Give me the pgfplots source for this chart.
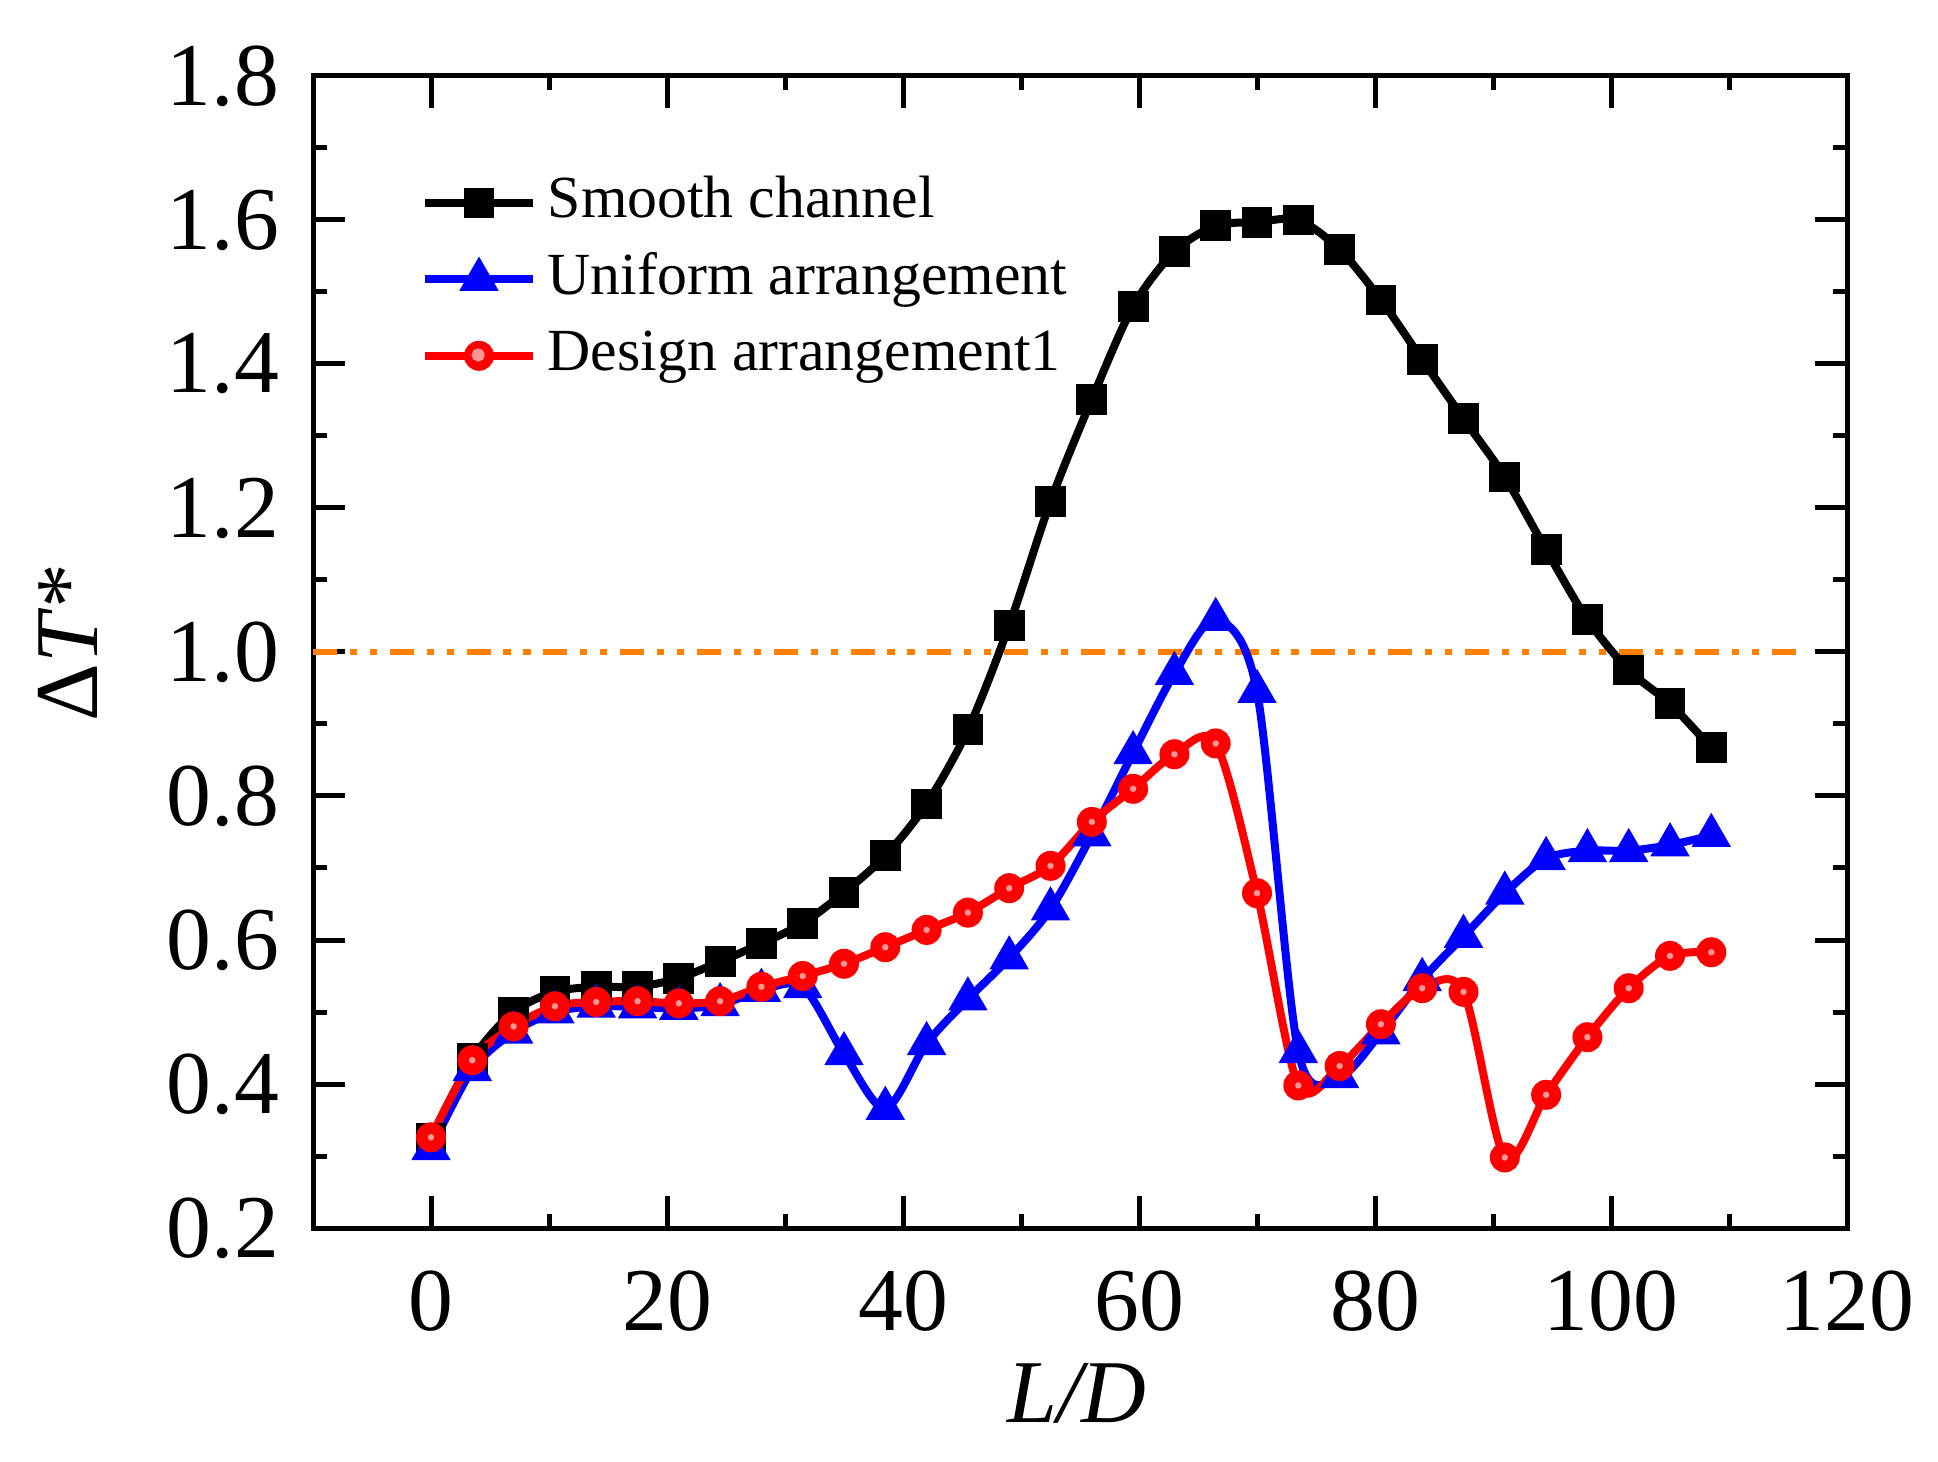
\documentclass[border=0pt]{standalone}
\usepackage{pgfplots}
\usepackage{pgfplotstable}
\pgfplotsset{compat=1.18}
\usepackage{fontspec}
\setmainfont{Liberation Serif}
\definecolor{myorange}{RGB}{255,128,0}
\definecolor{hilite}{RGB}{255,150,150}
\pgfplotsset{
  stdlegend/.style={legend image code/.code={\draw[mark repeat=2,mark phase=2,##1] plot coordinates {(0bp,0bp) (13.5bp,0bp) (27bp,0bp)};}},
  redlegend/.style={legend image code/.code={\draw[mark repeat=2,mark phase=2,##1] plot coordinates {(0bp,0bp) (13.5bp,0bp) (27bp,0bp)}; \fill[hilite] (13.3bp,0.2bp) circle (0.6bp);}},
}
\pgfplotstableread{
x     black  blue   red
0     0.325  0.310  0.326
3.5   0.435  0.420  0.433
7     0.500  0.472  0.480
10.5  0.528  0.500  0.508
14    0.535  0.508  0.514
17.5  0.535  0.507  0.515
21    0.547  0.505  0.512
24.5  0.570  0.510  0.515
28    0.595  0.530  0.535
31.5  0.623  0.535  0.550
35    0.666  0.442  0.567
38.5  0.717  0.366  0.590
42    0.789  0.456  0.614
45.5  0.892  0.518  0.638
49    1.037  0.575  0.672
52.5  1.209  0.643  0.703
56    1.351  0.746  0.764
59.5  1.480  0.860  0.810
63    1.556  0.970  0.858
66.5  1.592  1.045  0.873
70    1.597  0.945  0.665
73.5  1.600  0.445  0.398
77    1.559  0.410  0.425
80.5  1.489  0.471  0.483
84    1.406  0.545  0.533
87.5  1.324  0.605  0.528
91    1.243  0.665  0.298
94.5  1.142  0.713  0.385
98    1.045  0.724  0.465
101.5 0.975  0.724  0.533
105   0.928  0.732  0.578
108.5 0.867  0.745  0.583
}\data
\begin{document}
\begin{tikzpicture}
\begin{axis}[
  name=ax,
  scale only axis,
  width=383.5bp, height=288bp,
  xmin=-10, xmax=120, ymin=0.2, ymax=1.8,
  xtick={0,20,40,60,80,100,120},
  ytick={0.2,0.4,0.6,0.8,1.0,1.2,1.4,1.6,1.8},
  minor x tick num=1, minor y tick num=1,
  tick align=inside,
  major tick length=8bp, minor tick length=3.6bp,
  axis line style={line width=1.25bp},
  every tick/.style={black, line width=1.25bp},
  tick label style={font=\fontsize{22.5}{27}\selectfont},
  /pgf/number format/assume math mode=true,
  y tick label style={/pgf/number format/fixed, /pgf/number format/fixed zerofill, /pgf/number format/precision=1, xshift=-5bp},
  x tick label style={yshift=-7.2bp},
  xlabel={\textit{L/D}},
  ylabel={Δ\textit{T}*},
  every axis x label/.style={at={(axis description cs:0.498,0)}, anchor=center, yshift=-41.25bp, font=\fontsize{22.5}{27}\selectfont},
  every axis y label/.style={at={(axis description cs:0,0.508)}, xshift=-61.25bp, rotate=90, anchor=center, font=\fontsize{22.5}{27}\selectfont},
  legend style={at={(axis description cs:0,1)}, anchor=north west, xshift=27bp, yshift=-24.5bp,
    draw=none, fill=none, inner sep=0pt, outer sep=0pt, row sep=4.6bp, column sep=2.7bp,
    font=\fontsize{15}{18}\selectfont, nodes={inner sep=0pt, text height=11bp, text depth=3.5bp}},
  legend cell align=left,
  stdlegend,
]
\addplot[myorange, line width=1.5bp, dash pattern=on 6bp off 3.2bp on 1.8bp off 3.2bp on 1.8bp off 3.2bp, forget plot] coordinates {(-10,1) (116.5,1)};
\addplot[black, line width=2bp, smooth, mark=square*, mark size=3.6bp, mark options={solid, fill=black, draw=black, line width=0.5bp}] table[x=x,y=black] {\data};
\addlegendentry{Smooth channel}
\addplot[blue, line width=2bp, smooth, mark=triangle*, mark size=5.2bp, mark options={solid, fill=blue, draw=blue, line width=0.5bp}] table[x=x,y=blue] {\data};
\addlegendentry{Uniform arrangement}
\addplot[red, line width=2bp, smooth, mark=*, mark size=3.5bp, mark options={solid, fill=red, draw=red, line width=0.5bp}, redlegend] table[x=x,y=red] {\data};
\addlegendentry{Design arrangement1}
\addplot[hilite, only marks, mark=*, mark size=0.6bp, mark options={fill=hilite, draw=none}, forget plot] table[x=x,y=red] {\data};
\end{axis}
\pgfresetboundingbox
\path ([shift={(-78.25bp,-58.5bp)}]ax.south west) rectangle ([shift={(22.75bp,19bp)}]ax.north east);
\end{tikzpicture}
\end{document}
